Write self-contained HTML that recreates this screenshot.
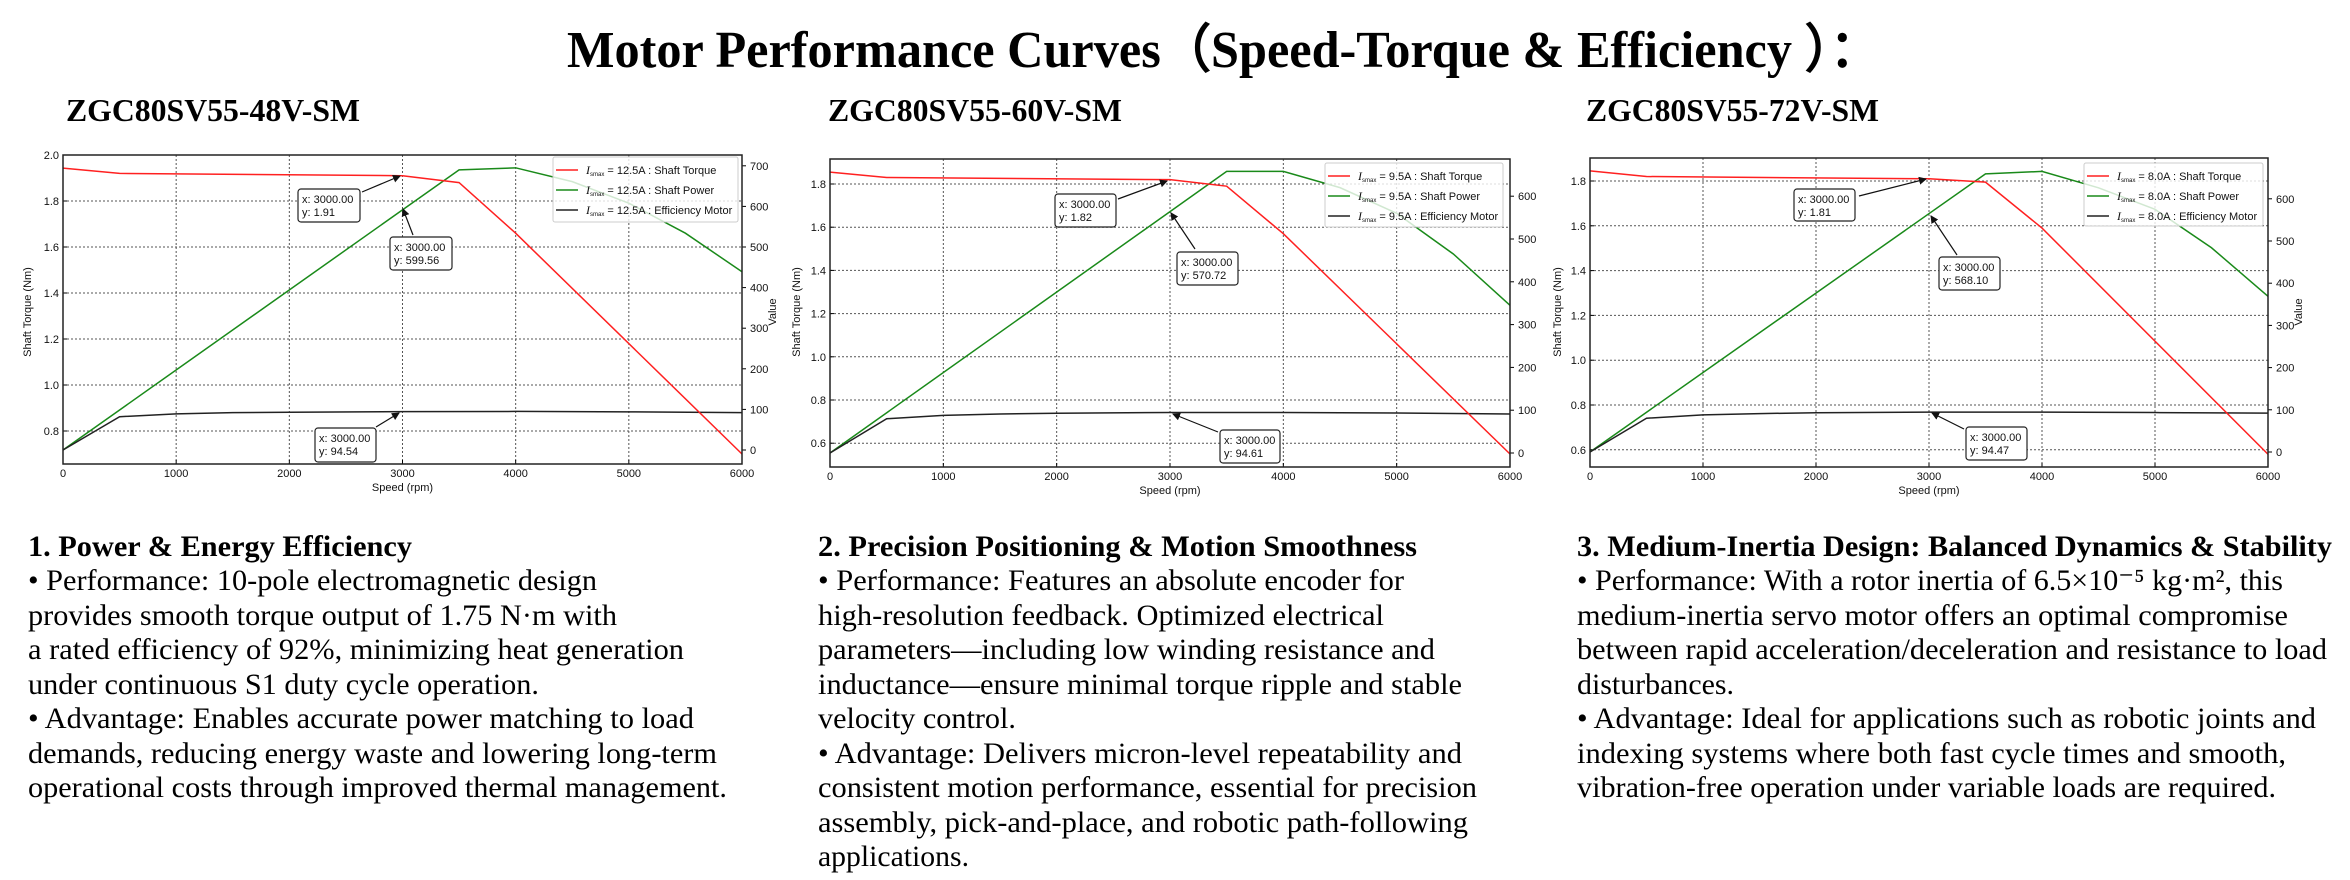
<!DOCTYPE html>
<html><head><meta charset="utf-8"><style>
html,body{margin:0;padding:0;background:#fff;width:2350px;height:880px;overflow:hidden}
svg{display:block}
.tk{font-family:"Liberation Sans",sans-serif;font-size:11px;fill:#111}
.body{font-family:"Liberation Serif",serif;font-size:30px;fill:#000}
</style></head><body>
<svg id="s" xmlns="http://www.w3.org/2000/svg" width="2350" height="880" viewBox="0 0 2350 880">
<rect width="2350" height="880" fill="#fff"/>
<text x="567" y="67" font-family="Liberation Serif,serif" font-weight="bold" font-size="52" textLength="1313" lengthAdjust="spacingAndGlyphs">Motor Performance Curves（Speed-Torque &amp; Efficiency ）：</text>
<g font-family="Liberation Serif,serif" font-weight="bold" font-size="32">
<text x="66" y="121" textLength="294" lengthAdjust="spacingAndGlyphs">ZGC80SV55-48V-SM</text>
<text x="828" y="121" textLength="294" lengthAdjust="spacingAndGlyphs">ZGC80SV55-60V-SM</text>
<text x="1586" y="121" textLength="293" lengthAdjust="spacingAndGlyphs">ZGC80SV55-72V-SM</text>
</g>
<g id="charts"></g>
<g class="body" id="txt"></g>
</svg>
<script>
const NS="http://www.w3.org/2000/svg";
const C=document.getElementById('charts');
function el(t,a,p,txt){const e=document.createElementNS(NS,t);for(const k in a)e.setAttribute(k,a[k]);if(txt!=null)e.textContent=txt;(p||C).appendChild(e);return e;}
const charts=[
 {L:63,R:742,T:155,B:464,y0:2.0,yTop:155,ppu:230,ticks:[0.8,1.0,1.2,1.4,1.6,1.8,2.0],r0:450,rp:40.6,rt:[0,100,200,300,400,500,600,700],
  tq:[[0,1.943],[500,1.92],[3000,1.91],[3500,1.88],[4000,1.66],[6000,0.70]],
  pw:[[0,0],[3500,690],[4000,695],[4500,661],[5000,608],[5500,534],[6000,439]],
  ef:[[0,0],[500,82],[1000,89],[1500,92],[2000,93],[3000,94.5],[4000,95],[5000,94],[6000,92]],
  amp:"12.5A",leg:[553,157,738,222],
  boxes:[[298,189,62,33,"1.91",362,192,400,176],[390,237,62,33,"599.56",413,235,403,209],[315,428,61,34,"94.54",376,427,399,413]],
  ylab:31,vlab:776},
 {L:830,R:1510,T:159,B:467,y0:1.8,yTop:184,ppu:216,ticks:[0.6,0.8,1.0,1.2,1.4,1.6,1.8],r0:453,rp:42.8,rt:[0,100,200,300,400,500,600],
  tq:[[0,1.855],[500,1.83],[3000,1.82],[3500,1.79],[4000,1.57],[6000,0.55]],
  pw:[[0,0],[3500,658],[4000,658],[4500,620],[5000,560],[5500,465],[6000,345]],
  ef:[[0,0],[500,80],[1000,88],[1500,91],[2000,93],[3000,94.6],[4000,94.5],[5000,93.5],[6000,91]],
  amp:"9.5A",leg:[1325,163,1503,227],
  boxes:[[1055,194,61,33,"1.82",1118,199,1167,181],[1177,252,61,33,"570.72",1195,249,1171,213],[1220,430,60,33,"94.61",1218,432,1173,414]],
  ylab:800,vlab:null},
 {L:1590,R:2268,T:158,B:467,y0:1.8,yTop:181,ppu:224,ticks:[0.6,0.8,1.0,1.2,1.4,1.6,1.8],r0:452,rp:42.2,rt:[0,100,200,300,400,500,600],
  tq:[[0,1.845],[500,1.82],[3000,1.81],[3500,1.795],[4000,1.59],[6000,0.58]],
  pw:[[0,0],[3500,659],[4000,665],[4500,626],[5000,575],[5500,484],[6000,369]],
  ef:[[0,0],[500,80],[1000,88],[1500,91],[2000,93],[3000,94.5],[4000,94.5],[5000,93.5],[6000,92]],
  amp:"8.0A",leg:[2084,163,2263,226],
  boxes:[[1794,189,61,32,"1.81",1859,196,1926,179],[1939,257,61,33,"568.10",1957,255,1931,216],[1966,427,61,33,"94.47",1964,429,1932,413]],
  ylab:1561,vlab:2302}
];
// arrow marker
const defs=el('defs',{});const m=el('marker',{id:'ah',markerWidth:8,markerHeight:8,refX:7,refY:4,orient:'auto',markerUnits:'userSpaceOnUse'},defs);
el('path',{d:'M0,0 L8,4 L0,8 Z',fill:'#111'},m);
charts.forEach(c=>{
 const X=v=>c.L+(c.R-c.L)*v/6000, Y=v=>c.yTop+(c.y0-v)*c.ppu, YR=v=>c.r0-v*c.rp/100;
 const g=el('g',{});
 // grid
 for(let s=1000;s<6000;s+=1000) el('line',{x1:X(s),x2:X(s),y1:c.T,y2:c.B,stroke:'#555','stroke-width':1,'stroke-dasharray':'2,2'},g);
 c.ticks.forEach(t=>{const y=Y(t);if(y>c.T+2&&y<c.B-1)el('line',{x1:c.L,x2:c.R,y1:y,y2:y,stroke:'#555','stroke-width':1,'stroke-dasharray':'2,2'},g);});
 // ticks & labels
 for(let s=0;s<=6000;s+=1000){el('line',{x1:X(s),x2:X(s),y1:c.B,y2:c.B-4,stroke:'#000'},g);el('text',{x:X(s),y:c.B+13,'text-anchor':'middle',class:'tk'},g,String(s));}
 c.ticks.forEach(t=>{const y=Y(t);el('line',{x1:c.L,x2:c.L+4,y1:y,y2:y,stroke:'#000'},g);el('text',{x:c.L-4,y:y+4,'text-anchor':'end',class:'tk'},g,t.toFixed(1));});
 c.rt.forEach(t=>{const y=YR(t);el('line',{x1:c.R,x2:c.R+4,y1:y,y2:y,stroke:'#000'},g);el('text',{x:c.R+8,y:y+4,class:'tk'},g,String(t));});
 el('text',{x:(c.L+c.R)/2,y:c.B+27,'text-anchor':'middle',class:'tk'},g,'Speed  (rpm)');
 el('text',{x:c.ylab,y:312,'text-anchor':'middle',class:'tk',transform:`rotate(-90 ${c.ylab} 312)`},g,'Shaft Torque  (Nm)');
 if(c.vlab)el('text',{x:c.vlab,y:312,'text-anchor':'middle',class:'tk',transform:`rotate(-90 ${c.vlab} 312)`},g,'Value');
 // series
 const pl=(pts,f,col)=>el('polyline',{points:pts.map(p=>X(p[0])+','+f(p[1])).join(' '),fill:'none',stroke:col,'stroke-width':1.5},g);
 pl(c.pw,YR,'#1a8a1a');pl(c.ef,YR,'#222');pl(c.tq,Y,'#ff2020');
 el('rect',{x:c.L,y:c.T,width:c.R-c.L,height:c.B-c.T,fill:'none',stroke:'#222','stroke-width':1.5},g);
 // legend
 const [lx,ly,lx2,ly2]=c.leg;
 el('rect',{x:lx,y:ly,width:lx2-lx,height:ly2-ly,fill:'#fff','fill-opacity':0.8,stroke:'#ccc',rx:2},g);
 [['#ff2020','Shaft Torque'],['#1a8a1a','Shaft Power'],['#222','Efficiency Motor']].forEach((e,i)=>{
  const y=ly+13+i*20;
  el('line',{x1:lx+3,x2:lx+25,y1:y,y2:y,stroke:e[0],'stroke-width':1.5},g);
  const t=el('text',{x:lx+33,y:y+4,class:'tk','font-size':'11'},g);
  el('tspan',{'font-family':'Liberation Serif,serif','font-style':'italic','font-size':'12'},t,'I');
  el('tspan',{'font-size':'6',dy:'2'},t,'smax');
  el('tspan',{dy:'-2'},t,' = '+c.amp+' : '+e[1]);
 });
 // annotations
 c.boxes.forEach(b=>{
  el('line',{x1:b[5],y1:b[6],x2:b[7],y2:b[8],stroke:'#111','stroke-width':1.2,'marker-end':'url(#ah)'},g);
  el('rect',{x:b[0],y:b[1],width:b[2],height:b[3],rx:3,fill:'#fff',stroke:'#222','stroke-width':1.2},g);
  el('text',{x:b[0]+4,y:b[1]+14,class:'tk','font-size':'11'},g,'x: 3000.00');
  el('text',{x:b[0]+4,y:b[1]+27,class:'tk','font-size':'11'},g,'y: '+b[4]);
 });
});
// body text
const T=document.getElementById('txt');
const ys=[556,590,625,659,694,728,763,797,832,866];
const cols=[
 [28,[["1. Power & Energy Efficiency",384,1],["• Performance: 10-pole electromagnetic design",569],["provides smooth torque output of 1.75 N·m with",589],["a rated efficiency of 92%, minimizing heat generation",656],["under continuous S1 duty cycle operation.",511],["• Advantage: Enables accurate power matching to load",666],["demands, reducing energy waste and lowering long-term",689],["operational costs through improved thermal management.",699]]],
 [818,[["2. Precision Positioning & Motion Smoothness",599,1],["• Performance: Features an absolute encoder for",586],["high-resolution feedback. Optimized electrical",566],["parameters—including low winding resistance and",617],["inductance—ensure minimal torque ripple and stable",644],["velocity control.",198],["• Advantage: Delivers micron-level repeatability and",644],["consistent motion performance, essential for precision",659],["assembly, pick-and-place, and robotic path-following",650],["applications.",151]]],
 [1577,[["3. Medium-Inertia Design: Balanced Dynamics & Stability",755,1],["• Performance: With a rotor inertia of 6.5×10⁻⁵ kg·m², this",706],["medium-inertia servo motor offers an optimal compromise",711],["between rapid acceleration/deceleration and resistance to load",750],["disturbances.",157],["• Advantage: Ideal for applications such as robotic joints and",739],["indexing systems where both fast cycle times and smooth,",709],["vibration-free operation under variable loads are required.",699]]]
];
cols.forEach(([x,lines])=>lines.forEach((l,i)=>{
 const a={x:x,y:ys[i],textLength:l[1],lengthAdjust:'spacingAndGlyphs'};
 if(l[2])a['font-weight']='bold';
 el('text',a,T,l[0]);
}));
</script>
</body></html>
